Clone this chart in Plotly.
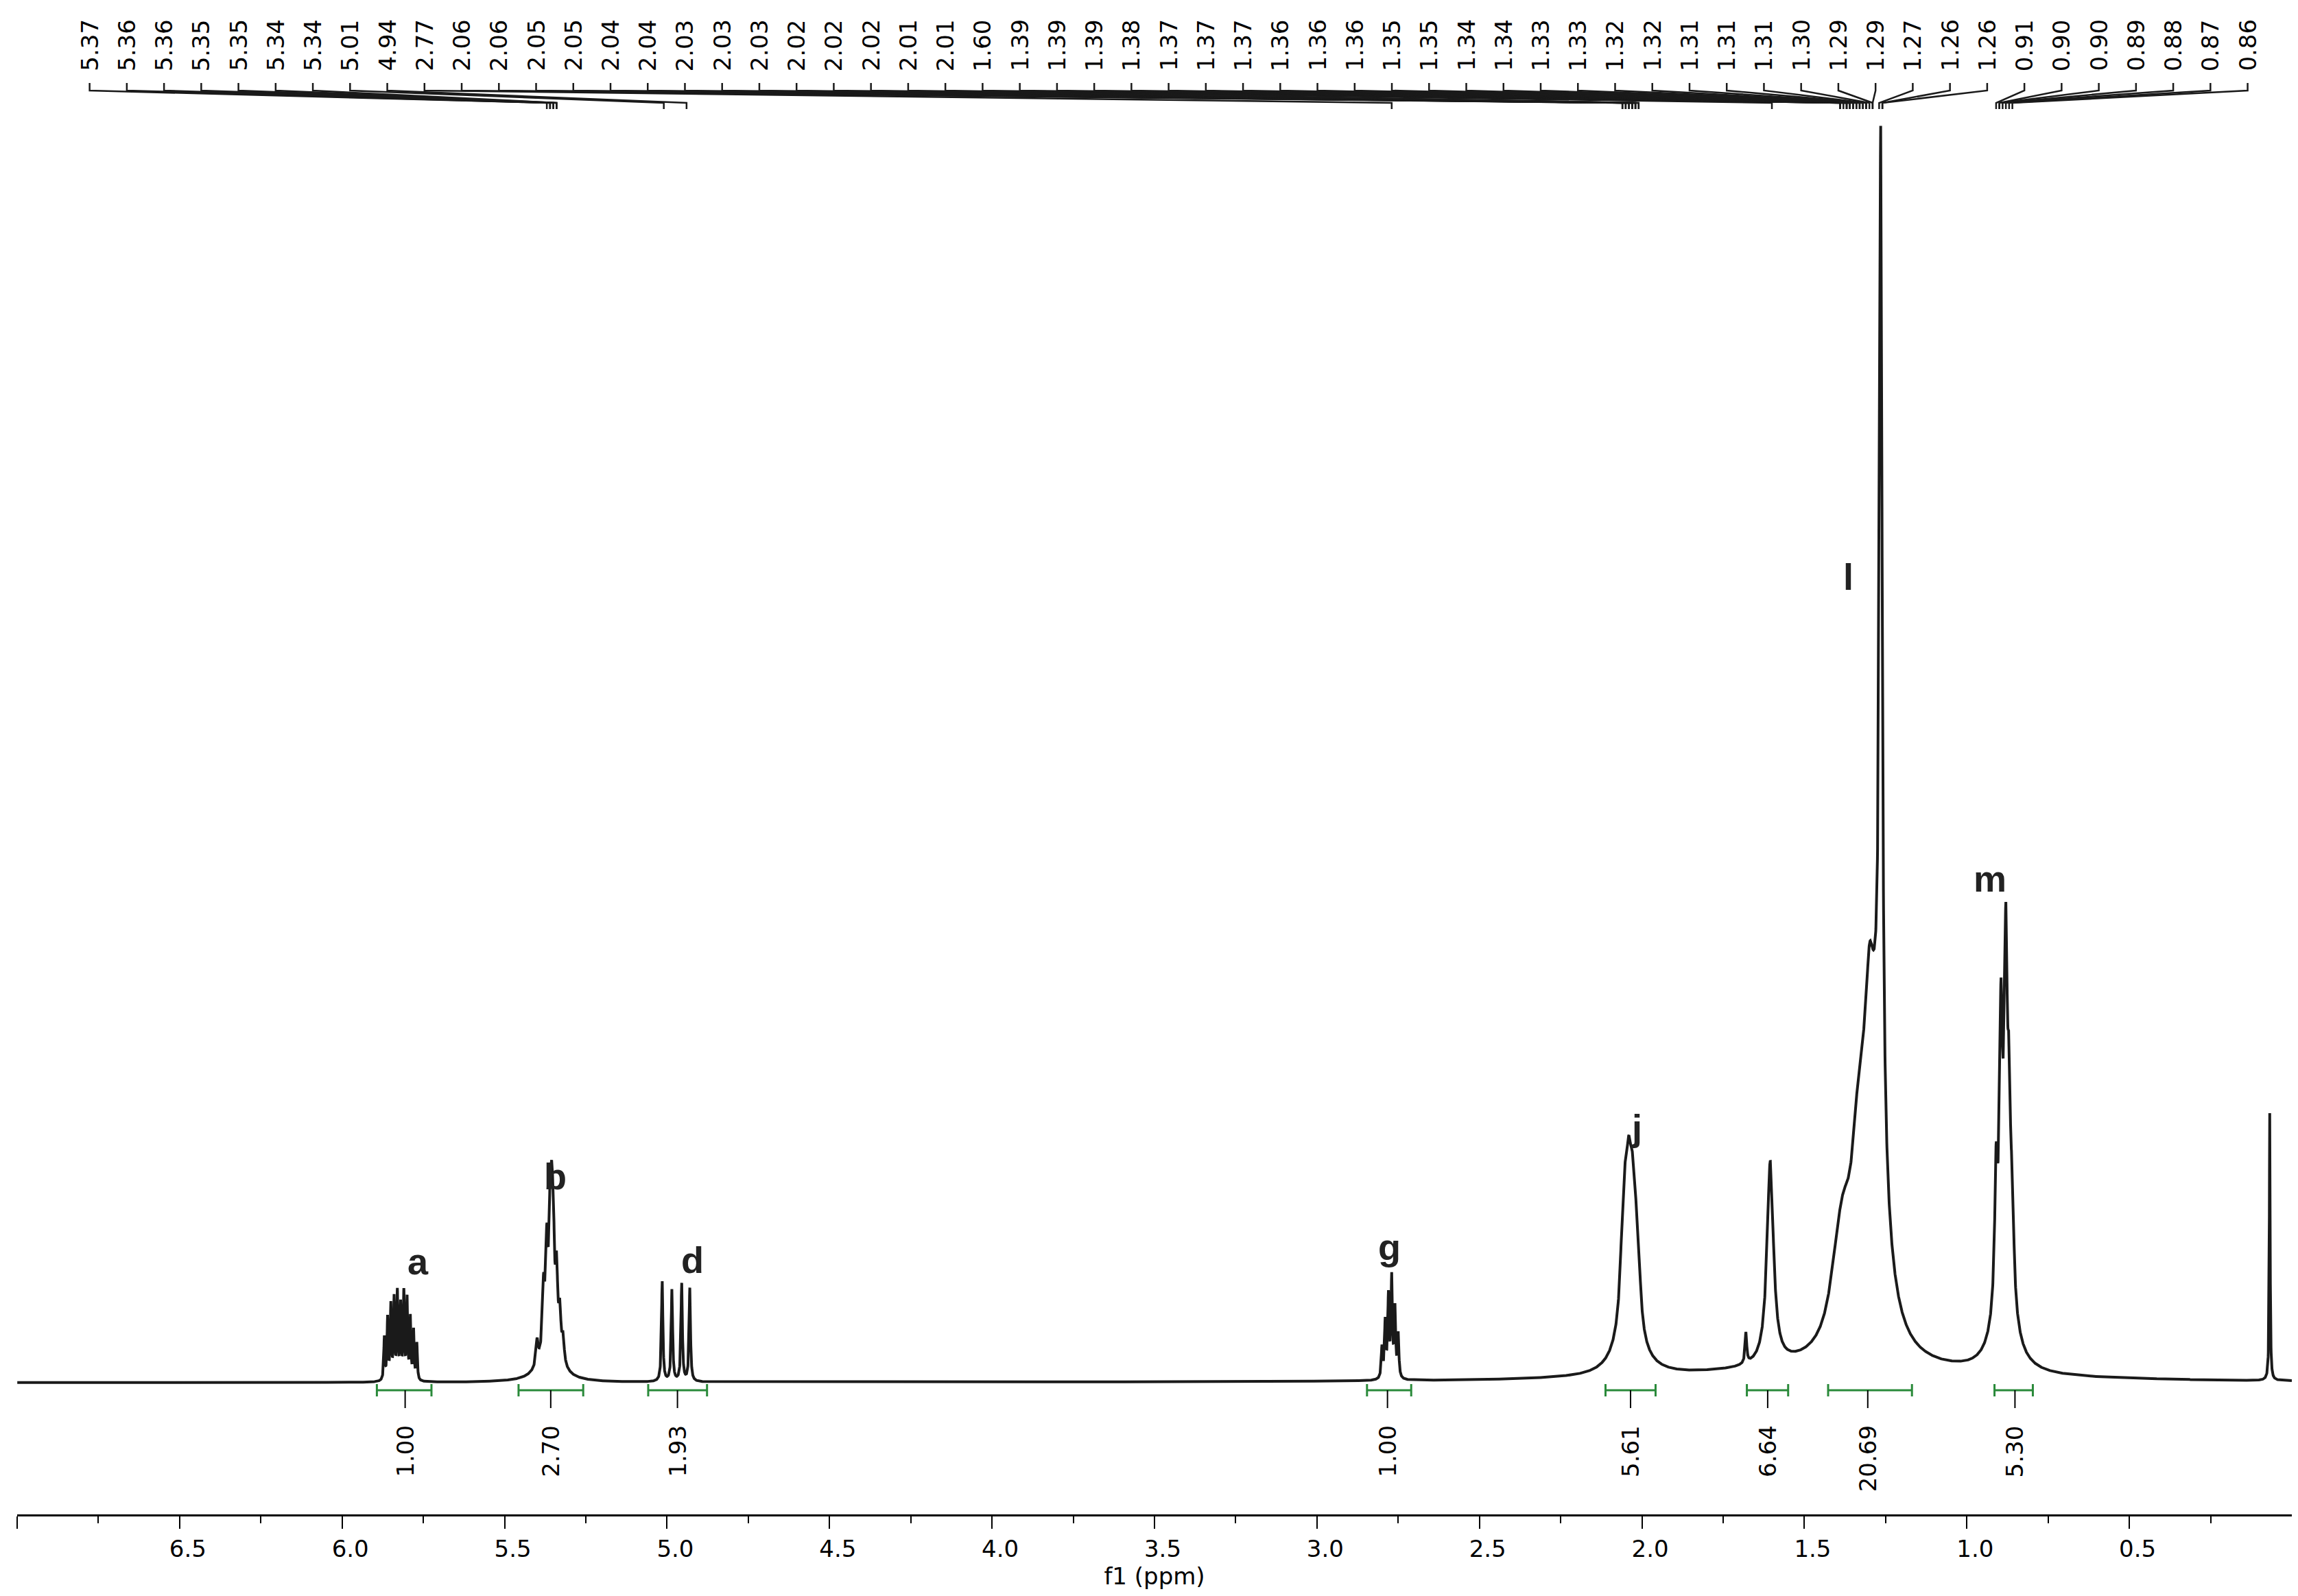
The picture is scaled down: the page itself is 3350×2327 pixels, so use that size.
import numpy as np
import plotly.graph_objects as go

# ---- data ----
# peak lines: ppm, relative height (tallest ~100), half width (ppm)
line_ppm = [5.87,5.86,5.85,5.84,5.83,5.82,5.81,5.80,5.79,5.78,5.77,
            5.40,5.38,5.37,5.36,5.355,5.35,5.34,5.33,5.32,5.36,
            5.015,4.985,4.955,4.93,
            2.80,2.79,2.78,2.77,2.76,2.75,
            2.06,2.05,2.04,2.03,2.02,2.01,2.04,
            1.68,1.605,
            1.265,1.28,1.33,1.38,1.30,1.40,
            0.91,0.895,0.88,0.87,0.86,0.885,
            0.068,
            1.40]
line_h =   [3.5,5,6,6.5,7,6,7,6.5,5,4,3,
            2,5,7.5,8,8,7.5,6,3.5,2,3,
            8.2,7.5,8,7.6,
            2.5,4.5,6.5,8,5.5,3.5,
            5,6.5,7,6.5,5,3.5,6,
            2.5,16.5,
            80,20,14,6,10,3,
            10,18,22,12,7,12,
            21.8,
            1.0]
line_w =   [0.002]*11 + [0.004]*9 + [0.03] + [0.0025]*4 + [0.0025]*6 + \
           [0.008]*6 + [0.035] + [0.003, 0.012] + [0.005, 0.035, 0.03, 0.03, 0.015, 0.03] + \
           [0.005]*5 + [0.025] + [0.0015] + [0.5]

peak_list = [5.37,5.36,5.36,5.35,5.35,5.34,5.34,5.01,4.94,2.77,2.06,2.06,2.05,2.05,2.04,2.04,
             2.03,2.03,2.03,2.02,2.02,2.02,2.01,2.01,1.60,1.39,1.39,1.39,1.38,1.37,1.37,1.37,
             1.36,1.36,1.36,1.35,1.35,1.34,1.34,1.33,1.33,1.32,1.32,1.31,1.31,1.31,1.30,1.29,
             1.29,1.27,1.26,1.26,0.91,0.90,0.90,0.89,0.88,0.87,0.86]

int_from = [5.893,5.457,5.058,2.846,2.112,1.677,1.427,0.915]
int_to   = [5.725,5.258,4.877,2.710,1.958,1.550,1.169,0.797]
int_mid  = [5.806,5.358,4.968,2.783,2.035,1.613,1.305,0.852]
int_val  = ["1.00","2.70","1.93","1.00","5.61","6.64","20.69","5.30"]

letters   = ["a","b","d","g","j","l","m"]
letter_x  = [5.766,5.344,4.922,2.778,2.017,1.364,0.929]
letter_y  = [369,493,371,390,564,1367,927]

tick_vals = [7.0,6.5,6.0,5.5,5.0,4.5,4.0,3.5,3.0,2.5,2.0,1.5,1.0,0.5]
tick_text = ["","6.5","6.0","5.5","5.0","4.5","4.0","3.5","3.0","2.5","2.0","1.5","1.0","0.5"]

# ---- build ----
BASE = 192
SCALE = 17.89
x = np.arange(0.0, 7.0, 0.0004)
y = np.zeros_like(x)
for p, h, w in zip(line_ppm, line_h, line_w):
    y += h / (1 + ((x - p) / w) ** 2)
y = BASE + y * SCALE

fig = go.Figure()
fig.add_trace(go.Scatter(x=x, y=y, mode="lines", line=dict(color="#1a1a1a", width=4),
                         hoverinfo="skip", showlegend=False))

# integrals
gx, gy = [], []
for a, b, m in zip(int_from, int_to, int_mid):
    gx += [a, b, None, a, a, None, b, b, None]
    gy += [181, 181, None, 190, 172, None, 190, 172, None]
fig.add_trace(go.Scatter(x=gx, y=gy, mode="lines", line=dict(color="#2a8a3a", width=3),
                         hoverinfo="skip", showlegend=False))
sx, sy = [], []
for m in int_mid:
    sx += [m, m, None]; sy += [181, 155, None]
fig.add_trace(go.Scatter(x=sx, y=sy, mode="lines", line=dict(color="black", width=2),
                         hoverinfo="skip", showlegend=False))

# peak-list connectors
lab_x = np.linspace(6.777, 0.136, len(peak_list))
cx, cy = [], []
for lx, p in zip(lab_x, peak_list):
    cx += [lx, lx, p, p, None]; cy += [2087, 2076, 2058, 2049, None]
fig.add_trace(go.Scatter(x=cx, y=cy, mode="lines", line=dict(color="#1a1a1a", width=2.5),
                         hoverinfo="skip", showlegend=False))

ann = []
for lx, p in zip(lab_x, peak_list):
    ann.append(dict(x=lx, y=2102, text=f"{p:.2f}", textangle=-90, showarrow=False,
                    xanchor="center", yanchor="bottom",
                    font=dict(family="DejaVu Sans", size=34, color="black")))
for m, v in zip(int_mid, int_val):
    ann.append(dict(x=m, y=132, text=v, textangle=-90, showarrow=False,
                    xanchor="center", yanchor="top",
                    font=dict(family="DejaVu Sans", size=34, color="black")))
for t, lx, ly in zip(letters, letter_x, letter_y):
    ann.append(dict(x=lx, y=ly, text=f"<b>{t}</b>", showarrow=False,
                    xanchor="center", yanchor="middle",
                    font=dict(family="Liberation Sans", size=54, color="#222")))

fig.update_layout(
    width=3350, height=2327, plot_bgcolor="white", paper_bgcolor="white",
    margin=dict(l=17, r=17, t=0, b=127), annotations=ann,
    xaxis=dict(range=[7.0, 0.0], showline=True, linecolor="black", linewidth=3,
               ticks="outside", ticklen=18, tickwidth=2, tickcolor="black",
               tickvals=tick_vals, ticktext=tick_text, showgrid=False, zeroline=False,
               ticklabelshift=-12,
               minor=dict(tickvals=[6.75,6.25,5.75,5.25,4.75,4.25,3.75,3.25,2.75,2.25,1.75,1.25,0.75,0.25],
                          ticks="outside", ticklen=10, tickwidth=2, tickcolor="black"),
               tickfont=dict(family="DejaVu Sans", size=34, color="black"),
               title=dict(text="f1 (ppm)", font=dict(family="DejaVu Sans", size=34, color="black"),
                          standoff=6)),
    yaxis=dict(range=[0, 2200], visible=False, showgrid=False, zeroline=False),
)
fig.write_html("out.html")
